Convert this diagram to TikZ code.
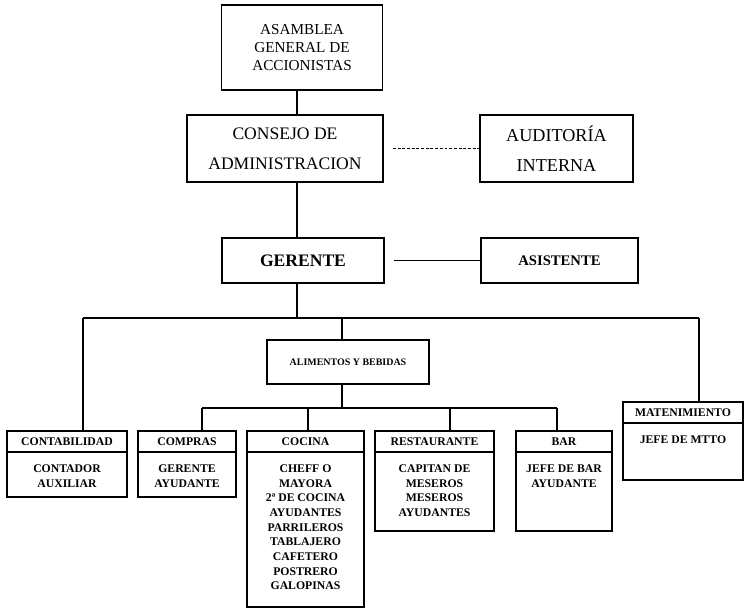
\documentclass[tikz,border=0pt]{standalone}
\usepackage{fontspec}
\setmainfont{Liberation Serif}
\usetikzlibrary{positioning}

\begin{document}
\begin{tikzpicture}[x=0.03cm, y=-0.03cm, line width=1.3pt,
    box/.style={draw, align=center, inner sep=0pt, outer sep=0pt},
    big/.style={box, font=\fontsize{15.5}{25.5}\selectfont},
    head/.style={box, anchor=north, minimum height=0.63cm,
                 font=\bfseries\fontsize{10}{12}\selectfont},
    body/.style={box, anchor=north},
    bodytext/.style={align=center, inner sep=0pt,
                     font=\bfseries\fontsize{10}{12.5}\selectfont}]
  \useasboundingbox (0,0) rectangle (748,609);

  % upper levels
  \node[box, minimum width=4.83cm, minimum height=2.55cm,
        font=\fontsize{13}{15.5}\selectfont] (asamblea) at (302,47.5)
        {ASAMBLEA\\GENERAL DE\\ACCIONISTAS};
  \node[big, minimum width=5.88cm, minimum height=2.01cm, font=\fontsize{15}{25.5}\selectfont]
        (consejo) at (285,148.5) {CONSEJO DE\\ADMINISTRACION};
  \node[big, minimum width=4.59cm, minimum height=2.01cm] (auditoria) at (556.5,148.5)
        {AUDITORÍA\\INTERNA};
  \node[box, minimum width=4.86cm, minimum height=1.35cm,
        font=\bfseries\fontsize{15}{18}\selectfont] (gerente) at (303,260.5) {GERENTE};
  \node[box, minimum width=4.71cm, minimum height=1.35cm,
        font=\bfseries\fontsize{12.5}{15}\selectfont] (asistente) at (559.5,260.5) {ASISTENTE};
  \node[box, minimum width=4.86cm, minimum height=1.32cm,
        font=\bfseries\fontsize{8.5}{10}\selectfont] (alimentos) at (348,362)
        {ALIMENTOS Y BEBIDAS};

  % departments
  \node[head, minimum width=3.6cm] (contabH) at (67,431) {CONTABILIDAD};
  \node[body, minimum width=3.6cm, minimum height=1.35cm, below=0pt of contabH] (contabB) {};
  \node[bodytext, below=0.36cm of contabB.north] (contabT) {CONTADOR\\AUXILIAR};

  \node[head, minimum width=2.94cm] (comprasH) at (187,431) {COMPRAS};
  \node[body, minimum width=2.94cm, minimum height=1.35cm, below=0pt of comprasH] (comprasB) {};
  \node[bodytext, below=0.36cm of comprasB.north] (comprasT) {GERENTE\\AYUDANTE};

  \node[head, minimum width=3.51cm] (cocinaH) at (305.5,431) {COCINA};
  \node[body, minimum width=3.51cm, minimum height=4.65cm, below=0pt of cocinaH] (cocinaB) {};
  \node[bodytext, below=0.36cm of cocinaB.north] (cocinaT)
        {CHEFF O\\MAYORA\\2ª DE COCINA\\AYUDANTES\\PARRILEROS\\TABLAJERO\\CAFETERO\\POSTRERO\\GALOPINAS};

  \node[head, minimum width=3.57cm] (restH) at (434.5,431) {RESTAURANTE};
  \node[body, minimum width=3.57cm, minimum height=2.37cm, below=0pt of restH] (restB) {};
  \node[bodytext, below=0.36cm of restB.north] (restT)
        {CAPITAN DE\\MESEROS\\MESEROS\\AYUDANTES};

  \node[head, minimum width=2.88cm] (barH) at (564,431) {BAR};
  \node[body, minimum width=2.88cm, minimum height=2.37cm, below=0pt of barH] (barB) {};
  \node[bodytext, below=0.36cm of barB.north] (barT) {JEFE DE BAR\\AYUDANTE};

  \node[head, minimum width=3.6cm] (mantH) at (683,402) {MATENIMIENTO};
  \node[body, minimum width=3.6cm, minimum height=1.71cm, below=0pt of mantH] (mantB) {};
  \node[bodytext, below=0.36cm of mantB.north] (mantT) {JEFE DE MTTO};

  % bus points
  \coordinate (trunk) at (297,318);
  \coordinate (busL) at (83,318);
  \coordinate (busR) at (699,318);
  \coordinate (alimTop) at (342,318);
  \coordinate (bus2) at (342,408);
  \coordinate (dCompras) at (202,408);
  \coordinate (dCocina) at (308,408);
  \coordinate (dRest) at (450,408);
  \coordinate (dBar) at (557,408);

  % connectors
  \draw (trunk |- asamblea.south) -- (trunk |- consejo.north);
  \draw (trunk |- consejo.south) -- (trunk |- gerente.north);
  \draw[dash pattern=on 2.5pt off 1.5pt, shorten <=0.3cm] (consejo.east) -- (auditoria.west);
  \draw[shorten <=0.3cm] (gerente.east) -- (asistente.west);
  \draw (trunk |- gerente.south) -- (trunk);
  \draw (busL) -- (busR);
  \draw (busL) -- (busL |- contabH.north);
  \draw (busR) -- (busR |- mantH.north);
  \draw (alimTop) -- (alimTop |- alimentos.north);
  \draw (bus2 |- alimentos.south) -- (bus2);
  \draw (dCompras) -- (dBar);
  \draw (dCompras) -- (dCompras |- comprasH.north);
  \draw (dCocina) -- (dCocina |- cocinaH.north);
  \draw (dRest) -- (dRest |- restH.north);
  \draw (dBar) -- (dBar |- barH.north);
\end{tikzpicture}
\end{document}
